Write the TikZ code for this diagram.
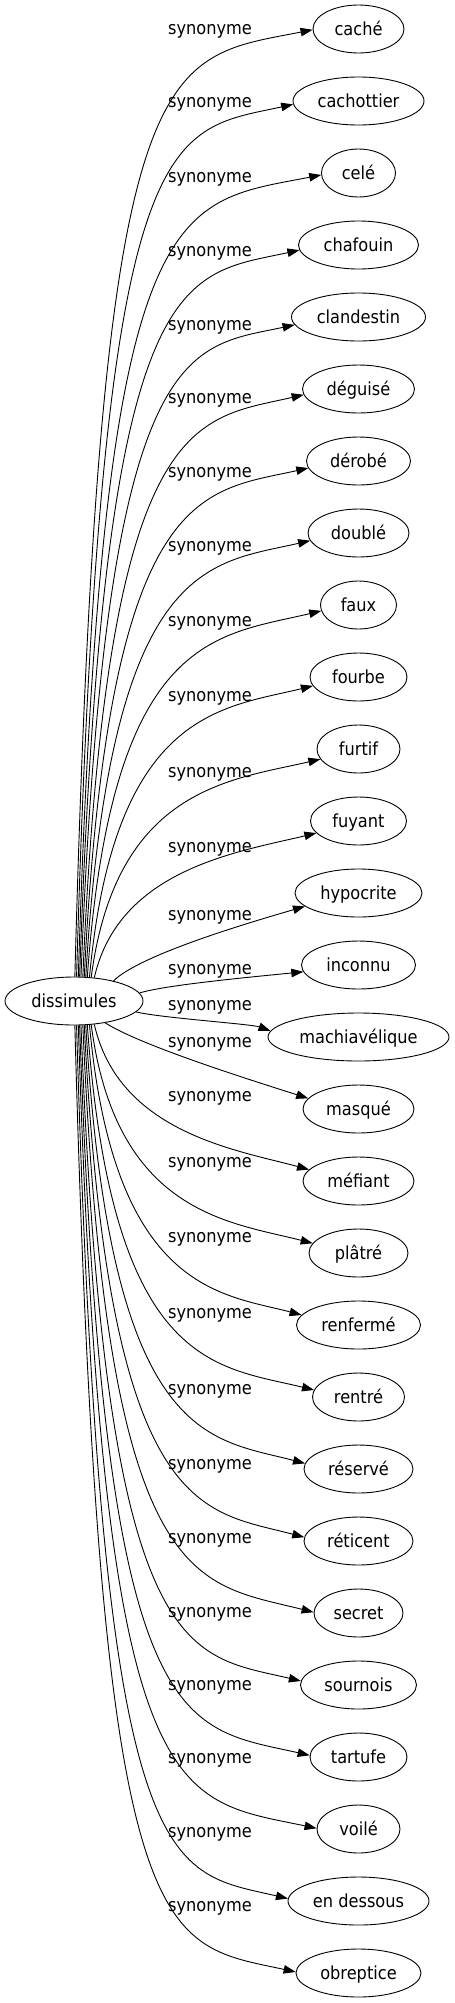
\documentclass[tikz,border=0pt]{standalone}
\usepackage{fontspec}
\setmainfont{DejaVu Sans Condensed}
\usetikzlibrary{arrows.meta,shapes.geometric}
\begin{document}
\begin{tikzpicture}[x=1pt,y=-1pt,
  word/.style={draw, ellipse, line width=0.9pt, inner sep=0pt, minimum height=48pt,
    text height=16pt, text depth=4pt, font=\fontsize{18}{20}\selectfont},
  lab/.style={anchor=base, inner sep=0pt, font=\fontsize{18}{20}\selectfont},
  edge/.style={line width=0.9pt, -{Triangle[length=12pt,width=8.5pt]}}]
\useasboundingbox (0,0) rectangle (455,2003);
\node[word, minimum width=138pt] (d) at (74,1001) {dissimules};
\foreach \k/\t/\w/\y/\ly in {
 1/caché/91/29/30,
 2/cachottier/131/101/103,
 3/celé/74/173/178,
 4/chafouin/120/245/252,
 5/clandestin/134/317/326,
 6/déguisé/112/389/399,
 7/dérobé/104/461/473,
 8/doublé/101/533/547,
 9/faux/76/605/622,
 10/fourbe/97/677/697,
 11/furtif/83/749/773,
 12/fuyant/96/821/848,
 13/hypocrite/127/893/916,
 14/inconnu/114/965/970,
 15/machiavélique/181/1037/1006,
 16/masqué/111/1109/1043,
 17/méfiant/111/1181/1097,
 18/plâtré/99/1253/1163,
 19/renfermé/124/1325/1238,
 20/rentré/92/1397/1314,
 21/réservé/109/1469/1390,
 22/réticent/109/1541/1465,
 23/secret/89/1613/1539,
 24/sournois/116/1685/1613,
 25/tartufe/97/1757/1686,
 26/voilé/83/1829/1759,
 27/en dessous/141/1901/1833,
 28/obreptice/125/1973/1907}
{
  \node[word, minimum width=\w pt] (n\k) at (358.5,\y) {\t};
  \node[lab] (l\k) at (210,\ly+4.5) {synonyme};
}
\foreach \k/\sa/\ea/\ax/\ay/\bx/\by in {
 1/88/181/100/42.6/157.9/60,
 2/84/183/101.5/115.6/165.1/132,
 3/80/183/103/188.7/172.3/204,
 4/77/185/104.5/261.9/179.5/276,
 5/74/187/106/335.5/186.7/348,
 6/70/186/107.5/409.2/193.9/420,
 7/67/188/109/483.4/201.1/492,
 8/64/189/110.5/558.1/208.3/564,
 9/61/189/112/633.6/215.5/636,
 10/57/191/114/710.1/222.7/708,
 11/54/195/116/788.4/229.9/780,
 12/49/196/119/869.5/237.1/852,
 13/27/194/140/955/244.3/924,
 14/7/187/165/985/251.5/977,
 15/-10/176/162/1018/251.3/1024,
 16/-35/168/140/1045/244.1/1078,
 17/-49/167/119/1132.8/236.9/1150,
 18/-54/168/116/1213.8/229.7/1222,
 19/-57/170/114/1292/222.5/1294,
 20/-61/171/112/1368.5/215.3/1366,
 21/-64/174/110.5/1444/208.1/1438,
 22/-67/176/109/1518.6/200.9/1510,
 23/-70/179/107.5/1592.8/193.7/1582,
 24/-74/176/106/1666.6/186.5/1654,
 25/-77/178/104.5/1740.1/179.3/1726,
 26/-80/179/103/1813.4/172.1/1798,
 27/-84/178/101.5/1886.5/164.9/1870,
 28/-88/179/100/1959.4/157.7/1942}
{
  \draw[edge] (d.\sa) .. controls (\ax,\ay) and (\bx,\by) .. (n\k.\ea);
}
\end{tikzpicture}
\end{document}
